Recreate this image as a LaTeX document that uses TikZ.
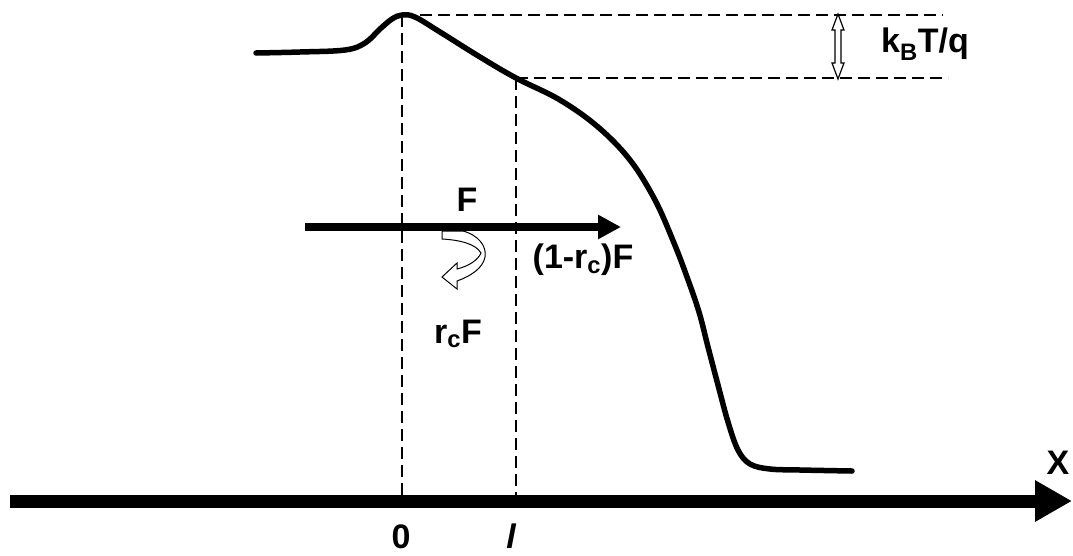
\documentclass[tikz,border=0pt]{standalone}
\usepackage{fontspec}
\setmainfont{Liberation Sans}
\usetikzlibrary{arrows.meta}
\tikzset{
  lbl/.style={font=\fontsize{34}{40}\selectfont\bfseries, inner sep=0pt},
  guide/.style={line width=1.3pt, dash pattern=on 12pt off 6pt},
  hollow/.style={draw=black, fill=white, line width=1.2pt, line join=miter},
  curvestyle/.style={line width=5.5pt, line cap=round, line join=round},
  axisarrow/.style={line width=13pt, -{Triangle[length=37pt,width=39pt]}},
  forcearrow/.style={line width=8pt, -{Triangle[length=23pt,width=23pt]}}
}
\begin{document}
\begin{tikzpicture}[x=1pt,y=-1pt]
\useasboundingbox (0,0) rectangle (1073,555);
% key coordinates
\coordinate (peak) at (402,15);
\coordinate (lpt) at (516,78);
\coordinate (peakbase) at (402,495);
\coordinate (lbase) at (516,495);
\coordinate (topend) at (943,15);
\coordinate (lowend) at (948,78);
\coordinate (axL) at (10,501);
\coordinate (axR) at (1072,501);
\coordinate (fL) at (305,227);
\coordinate (fR) at (621,227);
% potential curve
\draw[curvestyle] plot[smooth, tension=0.6] coordinates {
 (256,53) (300,52) (345,50) (365,43) (380,29) (392,19) (402,15) (415,17)
 (440,32) (480,57) (516,78) (560,100) (598,127) (630,160) (655,200)
 (674,243) (687,277) (699,312) (708,347) (718,385) (728,422) (738,450)
 (750,464) (770,469) (800,470) (852,471)};
% dashed guides
\draw[guide] (peak) -- (peakbase);
\draw[guide] (lpt) -- (lbase);
\draw[guide] (peak) -- (topend);
\draw[guide] (lpt) -- (lowend);
% double open arrow
\draw[hollow] (838,14) -- (844,30) -- (841,30) -- (841,63) -- (844,63) -- (838,79)
  -- (832,63) -- (835,63) -- (835,30) -- (832,30) -- cycle;
% x axis
\draw[axisarrow] (axL) -- (axR);
% force arrow
\draw[forcearrow] (fL) -- (fR);
% curved reflection arrow
\draw[hollow, line width=1pt] (442,231) -- (463,231)
  .. controls (478,235) and (487,246) .. (485,257)
  .. controls (483,268) and (471,276) .. (457,281)
  -- (457,289) -- (442,277) -- (457,263) -- (457,269)
  .. controls (469,266) and (478,260) .. (481,253)
  .. controls (476,244) and (460,240) .. (442,239) -- cycle;
% labels
\node[lbl] (kbt) at (925,44) {k\textsubscript{B}T/q};
\node[lbl] (F) at (467,200) {F};
\node[lbl] (trans) at (583,260) {(1-r\textsubscript{c})F};
\node[lbl] (refl) at (458,334) {r\textsubscript{c}F};
\node[lbl] (X) at (1058,463) {X};
\node[lbl, anchor=base] (zero) at (401,548) {0};
\node[lbl, anchor=base] (ell) at (511,548) {\itshape l};
\end{tikzpicture}
\end{document}
